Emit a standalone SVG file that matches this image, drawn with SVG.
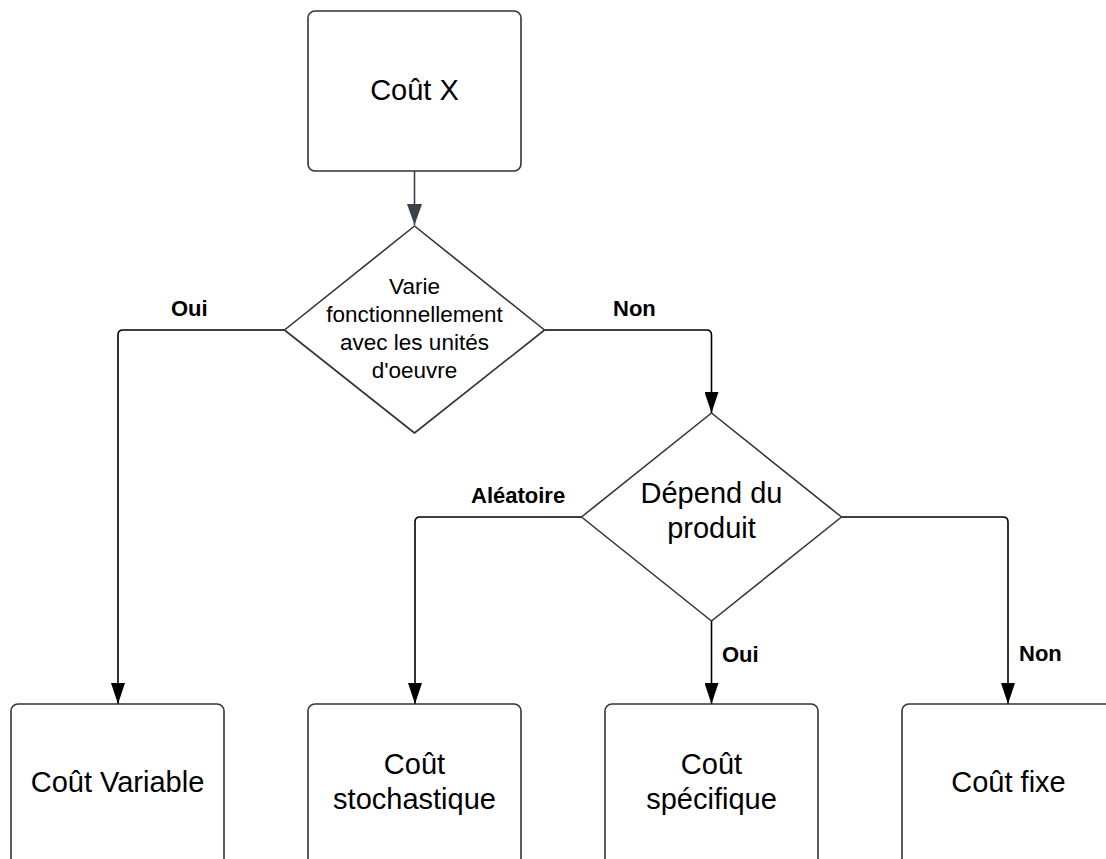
<svg xmlns="http://www.w3.org/2000/svg" width="1106" height="859" viewBox="0 0 1106 859">
  <defs>
    <marker id="arr" markerUnits="userSpaceOnUse" markerWidth="22" markerHeight="14" refX="21" refY="7" orient="auto">
      <path d="M0,0 L21,7 L0,14 z" fill="#000000"/>
    </marker>
    <marker id="arrTop" markerUnits="userSpaceOnUse" markerWidth="22" markerHeight="15" refX="21" refY="7.5" orient="auto">
      <path d="M0,0 L21,7.5 L0,15 z" fill="#3a414a"/>
    </marker>
  </defs>
  <style>
    .box { fill: #ffffff; stroke: #333333; stroke-width: 1.6; }
    .dia { fill: #ffffff; stroke: #333333; stroke-width: 1.6; stroke-linejoin: round; }
    .conn { fill: none; stroke: #000000; stroke-width: 1.6; marker-end: url(#arr); }
    .connTop { fill: none; stroke: #3a414a; stroke-width: 1.6; marker-end: url(#arrTop); }
    .t { font-family: "Liberation Sans", Arial, sans-serif; fill: #000000; text-anchor: middle; }
    .big { font-size: 29px; }
    .mid { font-size: 22.5px; }
    .lbl { font-family: "Liberation Sans", Arial, sans-serif; font-weight: bold; font-size: 22px; fill: #000000; }
  </style>
  <rect width="1106" height="859" fill="#ffffff"/>

  <g id="connectors">
    <path class="connTop" d="M414.5,171 V225"/>
    <path class="conn" d="M284.5,330 H123 Q118,330 118,335 V704"/>
    <path class="conn" d="M544.5,330 H706.5 Q711.5,330 711.5,335 V413"/>
    <path class="conn" d="M581.5,517 H420 Q415,517 415,522 V704"/>
    <path class="conn" d="M841.5,517 H1003 Q1008,517 1008,522 V704"/>
    <path class="conn" d="M711.5,621 V704"/>
    <text class="lbl" x="171" y="316">Oui</text>
    <text class="lbl" x="613" y="316">Non</text>
    <text class="lbl" x="471" y="503">Aléatoire</text>
    <text class="lbl" x="722" y="662">Oui</text>
    <text class="lbl" x="1019" y="661">Non</text>
  </g>

  <g id="node-cout-x">
    <rect class="box" x="308" y="11" width="213" height="160" rx="7"/>
    <text class="t big" x="414.5" y="100">Coût X</text>
  </g>

  <g id="node-varie">
    <path class="dia" d="M414.5,226 L544.5,330 L414.5,433 L284.5,330 Z"/>
    <text class="t mid" x="414.5" y="294">Varie</text>
    <text class="t mid" x="414.5" y="322">fonctionnellement</text>
    <text class="t mid" x="414.5" y="350">avec les unités</text>
    <text class="t mid" x="414.5" y="378">d'oeuvre</text>
  </g>

  <g id="node-depend">
    <path class="dia" d="M711.5,413 L841.5,517 L711.5,621 L581.5,517 Z"/>
    <text class="t big" x="711.5" y="503">Dépend du</text>
    <text class="t big" x="711.5" y="538">produit</text>
  </g>

  <g id="node-variable">
    <rect class="box" x="11" y="704" width="213" height="170" rx="7"/>
    <text class="t big" x="117.5" y="792">Coût Variable</text>
  </g>

  <g id="node-stochastique">
    <rect class="box" x="308" y="704" width="213" height="170" rx="7"/>
    <text class="t big" x="414.5" y="774">Coût</text>
    <text class="t big" x="414.5" y="809">stochastique</text>
  </g>

  <g id="node-specifique">
    <rect class="box" x="605" y="704" width="213" height="170" rx="7"/>
    <text class="t big" x="711.5" y="774">Coût</text>
    <text class="t big" x="711.5" y="809">spécifique</text>
  </g>

  <g id="node-fixe">
    <rect class="box" x="902" y="704" width="213" height="170" rx="7"/>
    <text class="t big" x="1008.5" y="792">Coût fixe</text>
  </g>
</svg>
